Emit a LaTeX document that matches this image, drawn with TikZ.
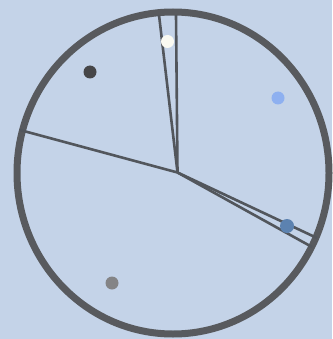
\documentclass[tikz,border=0pt]{standalone}
\usepackage{xcolor}
\usepackage{tikz}
\definecolor{paper}{RGB}{196,211,232}
\definecolor{rim}{RGB}{88,90,94}
\definecolor{spoke}{RGB}{82,86,92}
\definecolor{dotdark}{RGB}{70,70,72}
\definecolor{dotwhite}{RGB}{250,250,242}
\definecolor{dotsky}{RGB}{142,176,240}
\definecolor{dotsteel}{RGB}{92,130,176}
\definecolor{dotgray}{RGB}{132,132,134}

\begin{document}
\begin{tikzpicture}[x=1pt,y=-1pt, every node/.style={circle,inner sep=0pt,minimum size=13pt}]
\fill[paper] (0,0) rectangle (332,339);
\useasboundingbox (0,0) rectangle (332,339);
\draw[rim,line width=7pt] (173,173) ellipse [x radius=156, y radius=161];
\coordinate (hub) at (177.5,172.5);
\coordinate (top1) at (159,15);
\coordinate (top2) at (176,15);
\coordinate (left) at (20,130);
\coordinate (right1) at (317,238);
\coordinate (right2) at (312,247);
\draw[spoke,line width=2.6pt] (hub)--(top1);\draw[spoke,line width=2.6pt] (hub)--(top2);
\draw[spoke,line width=2.6pt] (hub)--(left);
\draw[spoke,line width=2.6pt] (hub)--(right1);\draw[spoke,line width=2.6pt] (hub)--(right2);
\node[fill=dotwhite] (w) at (167.5,41.5) {};
\node[fill=dotdark] (d) at (90,72) {};
\node[fill=dotsky] (s) at (278,98) {};
\node[fill=dotsteel,minimum size=14pt] (b) at (287,226) {};
\node[fill=dotgray] (g) at (112,283) {};
\end{tikzpicture}
\end{document}
